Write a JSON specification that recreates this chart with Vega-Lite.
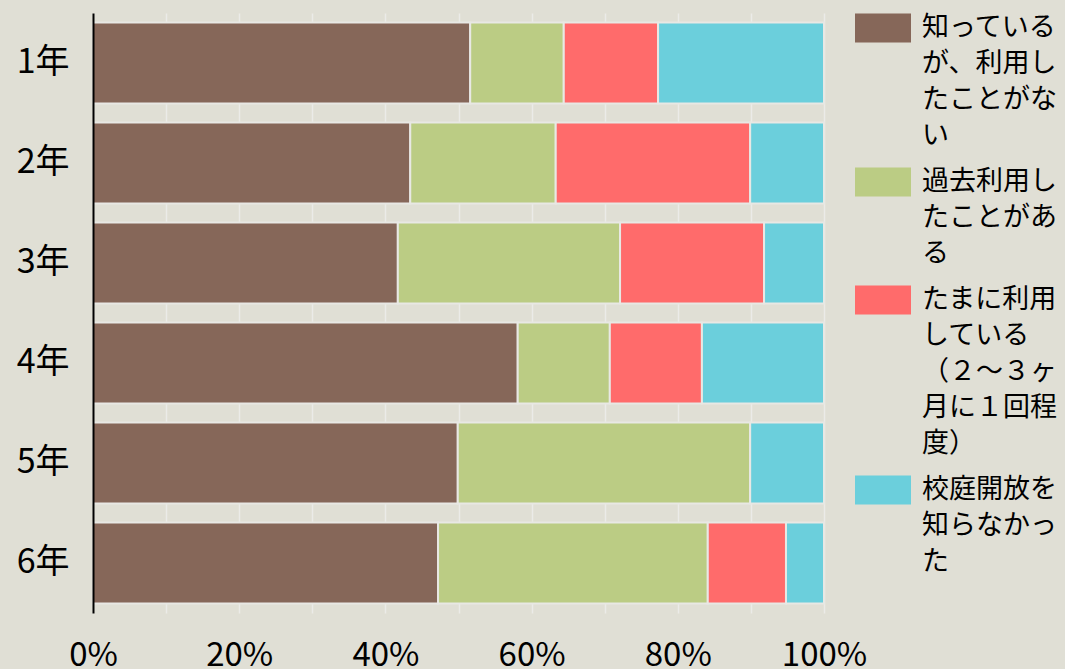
{
  "$schema": "https://vega.github.io/schema/vega-lite/v6.json",
  "autosize": {"type": "none"},
  "width": 731,
  "height": 600,
  "padding": {"left": 93, "top": 13, "right": 241, "bottom": 56},
  "background": "#e0dfd5",
  "config": {
    "view": {"stroke": null},
    "font": "Noto Sans CJK JP",
    "style": {"guide-label": {"lineHeight": 36}}
  },
  "data": {
    "values": [
      {"grade": "1年", "cat": "知っているが、利用したことがない", "o": 1, "pct": 51.6},
      {"grade": "1年", "cat": "過去利用したことがある", "o": 2, "pct": 12.8},
      {"grade": "1年", "cat": "たまに利用している（２～３ヶ月に１回程度）", "o": 3, "pct": 12.9},
      {"grade": "1年", "cat": "校庭開放を知らなかった", "o": 4, "pct": 22.7},
      {"grade": "2年", "cat": "知っているが、利用したことがない", "o": 1, "pct": 43.4},
      {"grade": "2年", "cat": "過去利用したことがある", "o": 2, "pct": 19.9},
      {"grade": "2年", "cat": "たまに利用している（２～３ヶ月に１回程度）", "o": 3, "pct": 26.6},
      {"grade": "2年", "cat": "校庭開放を知らなかった", "o": 4, "pct": 10.1},
      {"grade": "3年", "cat": "知っているが、利用したことがない", "o": 1, "pct": 41.7},
      {"grade": "3年", "cat": "過去利用したことがある", "o": 2, "pct": 30.4},
      {"grade": "3年", "cat": "たまに利用している（２～３ヶ月に１回程度）", "o": 3, "pct": 19.7},
      {"grade": "3年", "cat": "校庭開放を知らなかった", "o": 4, "pct": 8.2},
      {"grade": "4年", "cat": "知っているが、利用したことがない", "o": 1, "pct": 58.1},
      {"grade": "4年", "cat": "過去利用したことがある", "o": 2, "pct": 12.6},
      {"grade": "4年", "cat": "たまに利用している（２～３ヶ月に１回程度）", "o": 3, "pct": 12.6},
      {"grade": "4年", "cat": "校庭開放を知らなかった", "o": 4, "pct": 16.7},
      {"grade": "5年", "cat": "知っているが、利用したことがない", "o": 1, "pct": 49.9},
      {"grade": "5年", "cat": "過去利用したことがある", "o": 2, "pct": 40.0},
      {"grade": "5年", "cat": "たまに利用している（２～３ヶ月に１回程度）", "o": 3, "pct": 0},
      {"grade": "5年", "cat": "校庭開放を知らなかった", "o": 4, "pct": 10.1},
      {"grade": "6年", "cat": "知っているが、利用したことがない", "o": 1, "pct": 47.2},
      {"grade": "6年", "cat": "過去利用したことがある", "o": 2, "pct": 36.9},
      {"grade": "6年", "cat": "たまに利用している（２～３ヶ月に１回程度）", "o": 3, "pct": 10.7},
      {"grade": "6年", "cat": "校庭開放を知らなかった", "o": 4, "pct": 5.2}
    ]
  },
  "mark": {"type": "bar", "stroke": "#e8e8e4", "strokeWidth": 2},
  "encoding": {
    "y": {
      "field": "grade",
      "type": "nominal",
      "sort": ["1年", "2年", "3年", "4年", "5年", "6年"],
      "scale": {"paddingInner": 0.19, "paddingOuter": 0.095},
      "axis": {
        "title": null,
        "ticks": false,
        "domainColor": "#000000",
        "domainWidth": 2,
        "labelFontSize": 34,
        "labelColor": "#000000",
        "labelPadding": 24,
        "grid": false,
        "zindex": 1
      }
    },
    "x": {
      "field": "pct",
      "type": "quantitative",
      "stack": "normalize",
      "scale": {"domain": [0, 1]},
      "axis": {
        "title": null,
        "values": [0, 0.1, 0.2, 0.3, 0.4, 0.5, 0.6, 0.7, 0.8, 0.9, 1],
        "format": ".0%",
        "labelExpr": "round(datum.value * 100) % 20 == 0 ? datum.label : ''",
        "labelOverlap": false,
        "labelFontSize": 33,
        "labelColor": "#000000",
        "labelPadding": 26,
        "labelFlush": false,
        "domain": false,
        "ticks": false,
        "grid": true,
        "gridColor": "#ebebe8",
        "gridWidth": 1.5,
        "zindex": 0
      }
    },
    "color": {
      "field": "cat",
      "type": "nominal",
      "scale": {
        "domain": ["知っているが、利用したことがない", "過去利用したことがある", "たまに利用している（２～３ヶ月に１回程度）", "校庭開放を知らなかった"],
        "range": ["#866759", "#bbcc84", "#ff6b6b", "#6bcfdc"]
      },
      "legend": {
        "title": null,
        "orient": "none",
        "legendX": 762,
        "legendY": -5,
        "padding": 0,
        "symbolType": "M-1,-0.804H1V0.232H-1Z",
        "symbolSize": 3136,
        "symbolStrokeWidth": 0,
        "labelFontSize": 27,
        "labelColor": "#000000",
        "labelLimit": 300,
        "labelOffset": 11,
        "labelBaseline": "alphabetic",
        "rowPadding": 13,
        "labelExpr": "datum.label == '知っているが、利用したことがない' ? ['知っている', 'が、利用し', 'たことがな', 'い'] : datum.label == '過去利用したことがある' ? ['過去利用し', 'たことがあ', 'る'] : datum.label == 'たまに利用している（２～３ヶ月に１回程度）' ? ['たまに利用', 'している', '（２～３ヶ', '月に１回程', '度）'] : ['校庭開放を', '知らなかっ', 'た']"
      }
    },
    "order": {"field": "o", "type": "quantitative"}
  }
}
